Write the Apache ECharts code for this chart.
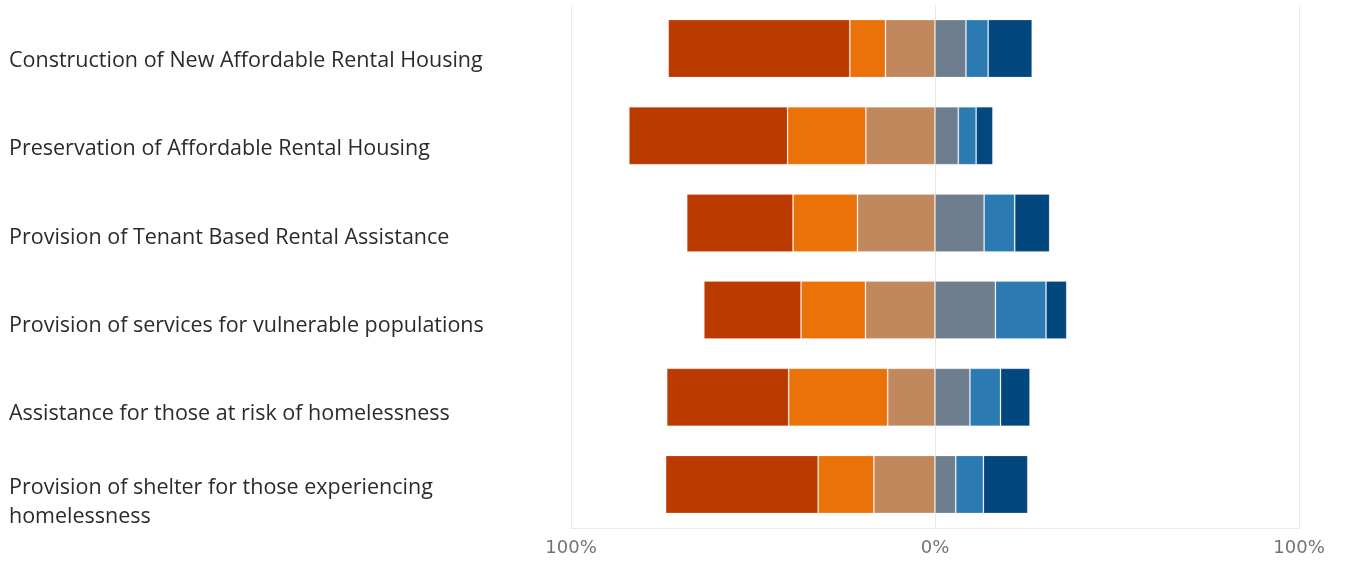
<!DOCTYPE html>
<html>
<head>
<meta charset="utf-8">
<script src="https://cdn.jsdelivr.net/npm/echarts@6/dist/echarts.min.js"></script>
<style>
  html, body { margin: 0; padding: 0; background: #ffffff; }
  #chart { width: 1345px; height: 561px; }
</style>
</head>
<body>
<div id="chart"></div>
<script>
// Priority areas, top to bottom
const categories = [
  'Construction of New Affordable Rental Housing',
  'Preservation of Affordable Rental Housing',
  'Provision of Tenant Based Rental Assistance',
  'Provision of services for vulnerable populations',
  'Assistance for those at risk of homelessness',
  'Provision of shelter for those experiencing homelessness'
];

// Share of responses (%) per rating level; the first three sit left of 0
const level1 = [49.9, 43.6, 29.2, 26.7, 33.5, 41.9];
const level2 = [9.8, 21.5, 17.7, 17.7, 27.2, 15.3];
const level3 = [13.6, 19.0, 21.3, 19.1, 13.0, 16.8];
const level4 = [8.5, 6.4, 13.5, 16.6, 9.6, 5.7];
const level5 = [6.1, 4.9, 8.4, 13.9, 8.4, 7.6];
const level6 = [12.1, 4.6, 9.6, 5.7, 8.1, 12.2];

const xTicks = [-100, 0, 100];

const neg = arr => arr.map(v => -v);

const chart = echarts.init(document.getElementById('chart'), null, { renderer: 'canvas' });

const gridColor = '#e9e9e9';

function bar(name, data, color) {
  return {
    name: name,
    type: 'bar',
    stack: 'total',
    xAxisIndex: 0,
    yAxisIndex: 0,
    barCategoryGap: '33.5%',
    data: data,
    itemStyle: { color: color, borderColor: 'rgba(255,255,255,0.18)', borderWidth: 1 },
    emphasis: { disabled: true }
  };
}

chart.setOption({
  animation: false,
  grid: [
    { left: 571, right: 46, top: 5, bottom: 33 },
    // label lane for the category names
    { left: 571, right: 46, top: 17, height: 529 }
  ],
  xAxis: [
    {
      type: 'value',
      gridIndex: 0,
      min: xTicks[0],
      max: xTicks[xTicks.length - 1],
      interval: 100,
      axisLine: { show: true, lineStyle: { color: gridColor, width: 1 } },
      axisTick: { show: false },
      splitLine: { show: true, lineStyle: { color: gridColor, width: 1 } },
      axisLabel: {
        margin: 11,
        color: '#737373',
        fontFamily: 'DejaVu Sans',
        fontSize: 18,
        formatter: v => Math.abs(v) + '%'
      }
    },
    { type: 'value', gridIndex: 1, show: false }
  ],
  yAxis: [
    {
      type: 'category',
      gridIndex: 0,
      data: categories,
      inverse: true,
      axisLine: { show: false },
      axisTick: { show: false },
      axisLabel: { show: false },
      splitLine: { show: false }
    },
    {
      type: 'category',
      gridIndex: 1,
      data: categories,
      inverse: true,
      axisLine: { show: false },
      axisTick: { show: false },
      splitLine: { show: false },
      axisLabel: {
        margin: 562,
        align: 'left',
        color: '#2b2b2b',
        fontFamily: 'Open Sans',
        fontSize: 21.5,
        lineHeight: 29,
        width: 520,
        overflow: 'break'
      }
    }
  ],
  series: [
    bar('Level 3', neg(level3), '#c1885e'),
    bar('Level 2', neg(level2), '#eb7109'),
    bar('Level 1', neg(level1), '#bb3a00'),
    bar('Level 4', level4, '#6f7e8e'),
    bar('Level 5', level5, '#2c7ab2'),
    bar('Level 6', level6, '#03477f')
  ]
});
</script>
</body>
</html>
